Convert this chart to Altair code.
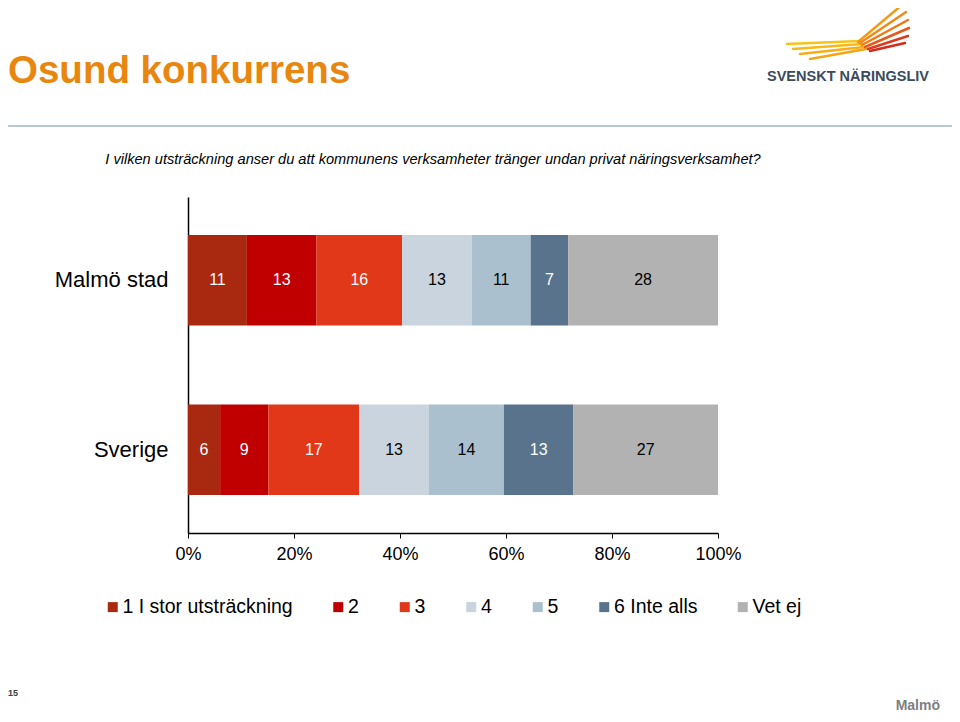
import altair as alt
import pandas as pd

# ---------------- data ----------------
groups = ["Malmö stad", "Sverige"]
categories = ["1 I stor utsträckning", "2", "3", "4", "5", "6 Inte alls", "Vet ej"]
malmo_values = [11, 13, 16, 13, 11, 7, 28]
sverige_values = [6, 9, 17, 13, 14, 13, 27]
x_ticks = [0, 0.2, 0.4, 0.6, 0.8, 1.0]

title_text = "Osund konkurrens"
question_text = ("I vilken utsträckning anser du att kommunens verksamheter "
                 "tränger undan privat näringsverksamhet?")
brand_text = "SVENSKT NÄRINGSLIV"
page_number = "15"
footer_text = "Malmö"

# ---------------- styles ----------------
colors = ["#A8290F", "#C00000", "#E2381A", "#C9D4DE", "#ABC0CF", "#58738B", "#B2B2B2"]
dark_text_categories = ["4", "5", "Vet ej"]
FONT = "Liberation Sans"

rows = []
for g, vals in zip(groups, [malmo_values, sverige_values]):
    for i, (c, v) in enumerate(zip(categories, vals)):
        rows.append({"group": g, "category": c, "order": i, "value": v})
df = pd.DataFrame(rows)

W, H = 530, 336
OX, OY = 188, 197  # page position of plot origin


def px(x):
    return x - OX


def py(y):
    return y - OY


base = (
    alt.Chart(df)
    .transform_joinaggregate(total="sum(value)", groupby=["group"])
    .transform_window(cum="sum(value)", sort=[alt.SortField("order")],
                      groupby=["group"], frame=[None, 0])
    .transform_calculate(
        start="(datum.cum - datum.value) / datum.total",
        end="datum.cum / datum.total",
        mid="(datum.cum - datum.value / 2) / datum.total",
    )
)

y_enc = alt.Y(
    "group:N", sort=groups,
    scale=alt.Scale(paddingInner=0.467, paddingOuter=0.225),
    axis=alt.Axis(title=None, labelFontSize=22, labelColor="black",
                  labelPadding=20, ticks=False, domainColor="black",
                  domainWidth=1.5, labelFont=FONT),
)

bars = base.mark_bar().encode(
    x=alt.X("start:Q", scale=alt.Scale(domain=[0, 1], nice=False),
            axis=alt.Axis(values=x_ticks, format=".0%", title=None,
                          labelFontSize=18, labelColor="black", tickSize=5,
                          tickColor="black", domainColor="black",
                          domainWidth=1.5, grid=False, labelPadding=7,
                          labelFlush=False, labelFont=FONT)),
    x2="end:Q",
    y=y_enc,
    color=alt.Color(
        "category:N", sort=categories,
        scale=alt.Scale(domain=categories, range=colors),
        legend=alt.Legend(title=None, orient="none", legendX=px(103),
                          legendY=py(597), direction="horizontal", columns=7,
                          symbolType="square", symbolSize=100,
                          symbolStrokeWidth=0, labelFontSize=19.5,
                          labelColor="black", columnPadding=35.5, labelOffset=0,
                          labelLimit=400, labelFont=FONT),
    ),
)

labels = base.mark_text(fontSize=16, align="center", baseline="middle",
                        font=FONT).encode(
    x=alt.X("mid:Q"),
    y=alt.Y("group:N", sort=groups),
    text="value:Q",
    color=alt.condition(
        alt.FieldOneOfPredicate(field="category", oneOf=dark_text_categories),
        alt.value("black"), alt.value("white")),
)


def note(text, x, y, **kw):
    return alt.Chart(alt.Data(values=[{"k": 1}])).mark_text(
        text=text, font=FONT, **kw).encode(x=alt.value(px(x)), y=alt.value(py(y)))


def stroke(x1, y1, x2, y2, color, width=2.5):
    return alt.Chart(alt.Data(values=[{"k": 1}])).mark_rule(
        color=color, strokeWidth=width, strokeCap="round").encode(
        x=alt.value(px(x1)), y=alt.value(py(y1)),
        x2=alt.value(px(x2)), y2=alt.value(py(y2)))


notes = [
    note(title_text, 8, 83, fontSize=38.5, fontWeight="bold", color="#E8860E",
         align="left", baseline="alphabetic"),
    stroke(8, 126, 952, 126, "#B7C7D3", 2),
    note(question_text, 433, 164, fontSize=14.6, fontStyle="italic",
         color="black", align="center", baseline="alphabetic"),
    note(brand_text, 767, 81, fontSize=14.5, fontWeight="bold",
         color="#3B4A5C", align="left", baseline="alphabetic"),
    note(page_number, 8, 696, fontSize=9, fontWeight="bold", color="#404040",
         align="left", baseline="alphabetic"),
    note(footer_text, 940, 710, fontSize=14, fontWeight="bold",
         color="#7F7F7F", align="right", baseline="alphabetic"),
]

feathers = [
    (787, 44, 860, 41, "#F7C21A"),
    (793, 49, 862, 44, "#F8B819"),
    (800, 54, 864, 47, "#F6AE18"),
    (810, 59, 866, 49, "#F5A417"),
    (858, 42, 903, 4, "#F39A16"),
    (860, 43, 906, 12, "#F08A15"),
    (862, 45, 908, 20, "#EC7A16"),
    (865, 47, 909, 28, "#E55A1A"),
    (868, 49, 908, 36, "#DC3A1C"),
    (870, 51, 905, 43, "#D52A1E"),
]
logo = [stroke(a, b, c, d, col, 2.5) for a, b, c, d, col in feathers]

chart = (
    alt.layer(bars, labels, *notes, *logo)
    .properties(
        width=W, height=H,
        autosize=alt.AutoSizeParams(type="none"),
        padding={"left": OX - 8, "top": OY - 8,
                 "right": 944 - (OX - 8) - W, "bottom": 706 - (OY - 8) - H},
    )
    .configure(font=FONT)
    .configure_view(stroke=None)
)

chart.save("out.html", embed_options={"renderer": "svg", "actions": False})
